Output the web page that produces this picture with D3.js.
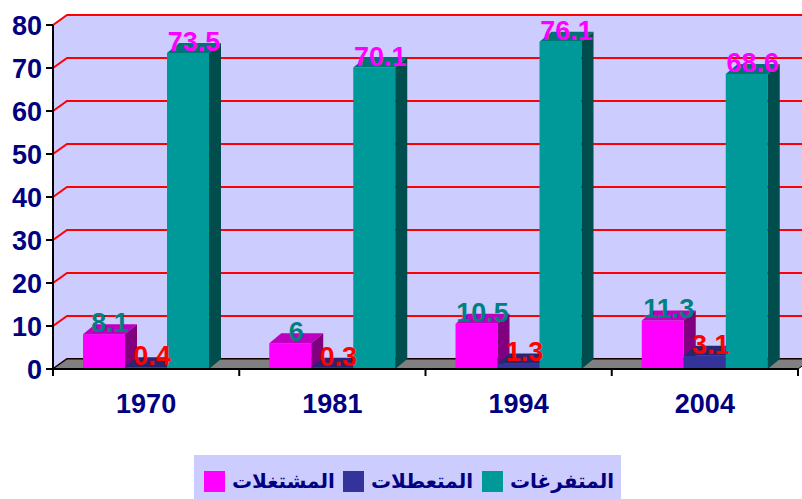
<!DOCTYPE html>
<html>
<head>
<meta charset="utf-8">
<script src="https://cdn.jsdelivr.net/npm/d3@7"></script>
<style>
  body { margin: 0; background: #fff; }
  svg { display: block; }
</style>
</head>
<body>
<svg id="chart" width="802" height="499"></svg>
<script>
// chart data
var years = ["1970", "1981", "1994", "2004"];
var seriesNames = ["المشتغلات", "المتعطلات", "المتفرغات"];
var employed = [8.1, 6, 10.5, 11.3];
var unemployed = [0.4, 0.3, 1.3, 3.1];
var fullTime = [73.5, 70.1, 76.1, 68.6];
var yTicks = [0, 10, 20, 30, 40, 50, 60, 70, 80];

var values = [employed, unemployed, fullTime];
var faceColors = ["#ff00ff", "#333399", "#009999"];
var topColors = ["#c000c0", "#262673", "#007373"];
var sideColors = ["#800080", "#1a1a4d", "#004d4d"];
var labelColors = ["#008080", "#ff0000", "#ff00ff"];

var svg = d3.select("#chart");
var plotLeft = 53, plotRight = 798, plotBottom = 369, plotTop = 25;
var wallDx = 14, wallDy = -10;
var barDx = 12, barDy = -10;

var x0 = d3.scaleBand().domain(years).range([plotLeft, plotRight]);
var x1 = d3.scaleBand().domain(d3.range(3)).range([30, 156]);
var y = d3.scaleLinear().domain([0, 80]).range([plotBottom, plotTop]);

var numFont = "'Liberation Sans', Arial, sans-serif";

// side wall and back wall
svg.append("path")
  .attr("d", `M${plotLeft},${plotBottom}L${plotLeft + wallDx},${plotBottom + wallDy}L${plotLeft + wallDx},${y(80) + wallDy}L${plotLeft},${y(80)}Z`)
  .attr("fill", "#ccccff");
svg.append("rect")
  .attr("x", plotLeft + wallDx).attr("y", y(80) + wallDy)
  .attr("width", 830 - plotLeft - wallDx).attr("height", y(0) - y(80))
  .attr("fill", "#ccccff");

// gridlines
var grid = svg.append("g");
yTicks.forEach(function(t) {
  var col = t === 0 ? "#330000" : "#ff0000";
  grid.append("path")
    .attr("d", `M${plotLeft},${y(t)}L${plotLeft + wallDx},${y(t) + wallDy}L830,${y(t) + wallDy}`)
    .attr("fill", "none")
    .attr("stroke", col)
    .attr("stroke-width", 2);
});

// floor
svg.append("path")
  .attr("d", `M${plotLeft},${plotBottom}L${plotRight},${plotBottom}L${plotRight + wallDx},${plotBottom + wallDy}L${plotLeft + wallDx},${plotBottom + wallDy}Z`)
  .attr("fill", "#808080")
  .attr("stroke", "#000")
  .attr("stroke-width", 1);

// bars
var bars = svg.append("g");
years.forEach(function(yr, j) {
  values.forEach(function(vals, i) {
    var v = vals[j];
    var bx = x0(yr) + x1(i), w = x1.bandwidth();
    var yv = y(v), y0 = y(0);
    var g = bars.append("g");
    g.append("rect")
      .attr("x", bx).attr("y", yv)
      .attr("width", w).attr("height", y0 - yv)
      .attr("fill", faceColors[i]);
    g.append("path")
      .attr("d", `M${bx},${yv}L${bx + barDx},${yv + barDy}L${bx + w + barDx},${yv + barDy}L${bx + w},${yv}Z`)
      .attr("fill", topColors[i]);
    g.append("path")
      .attr("d", `M${bx + w},${yv}L${bx + w + barDx},${yv + barDy}L${bx + w + barDx},${y0 + barDy}L${bx + w},${y0}Z`)
      .attr("fill", sideColors[i]);
  });
});

// axes
var axisG = svg.append("g");
axisG.append("line")
  .attr("x1", plotLeft).attr("x2", plotLeft).attr("y1", y(80)).attr("y2", plotBottom)
  .attr("stroke", "#000").attr("stroke-width", 2);
axisG.append("line")
  .attr("x1", plotLeft).attr("x2", plotRight).attr("y1", plotBottom).attr("y2", plotBottom)
  .attr("stroke", "#000").attr("stroke-width", 2);

axisG.selectAll(".ytick")
  .data(yTicks)
  .join("line")
  .attr("x1", plotLeft - 7).attr("x2", plotLeft)
  .attr("y1", d => y(d)).attr("y2", d => y(d))
  .attr("stroke", "#000").attr("stroke-width", 2);

axisG.selectAll(".ylab")
  .data(yTicks)
  .join("text")
  .attr("x", 42).attr("y", d => y(d))
  .attr("dy", "0.36em")
  .attr("text-anchor", "end")
  .attr("font-family", numFont)
  .attr("font-weight", "bold")
  .attr("font-size", 27)
  .attr("fill", "#000080")
  .text(d => d);

var xTickPos = years.map(d => x0(d)).concat([plotRight]);
axisG.selectAll(".xtick")
  .data(xTickPos)
  .join("line")
  .attr("x1", d => d).attr("x2", d => d)
  .attr("y1", plotBottom).attr("y2", plotBottom + 7)
  .attr("stroke", "#000").attr("stroke-width", 2);

axisG.selectAll(".xlab")
  .data(years)
  .join("text")
  .attr("x", d => x0(d) + x0.bandwidth() / 2)
  .attr("y", 413)
  .attr("text-anchor", "middle")
  .attr("font-family", numFont)
  .attr("font-weight", "bold")
  .attr("font-size", 27)
  .attr("fill", "#000080")
  .text(d => d);

// value labels
var labels = svg.append("g");
years.forEach(function(yr, j) {
  values.forEach(function(vals, i) {
    var v = vals[j];
    var bx = x0(yr) + x1(i), w = x1.bandwidth();
    labels.append("text")
      .attr("x", bx + (w + barDx) / 2)
      .attr("y", y(v) - 2)
      .attr("text-anchor", "middle")
      .attr("font-family", numFont)
      .attr("font-weight", "bold")
      .attr("font-size", 27)
      .attr("fill", labelColors[i])
      .text(v);
  });
});

// legend
var legend = svg.append("g");
legend.append("rect")
  .attr("x", 194).attr("y", 455).attr("width", 427).attr("height", 44)
  .attr("fill", "#ccccff");
seriesNames.forEach(function(name, i) {
  var sx = 204 + i * 139;
  legend.append("rect")
    .attr("x", sx).attr("y", 471).attr("width", 21).attr("height", 21)
    .attr("fill", faceColors[i]);
  legend.append("text")
    .attr("x", sx + 28).attr("y", 488)
    .attr("text-anchor", "start")
    .attr("font-family", "'DejaVu Sans', sans-serif")
    .attr("font-weight", "bold")
    .attr("font-size", 20)
    .attr("fill", "#000080")
    .text(name);
});
</script>
</body>
</html>
